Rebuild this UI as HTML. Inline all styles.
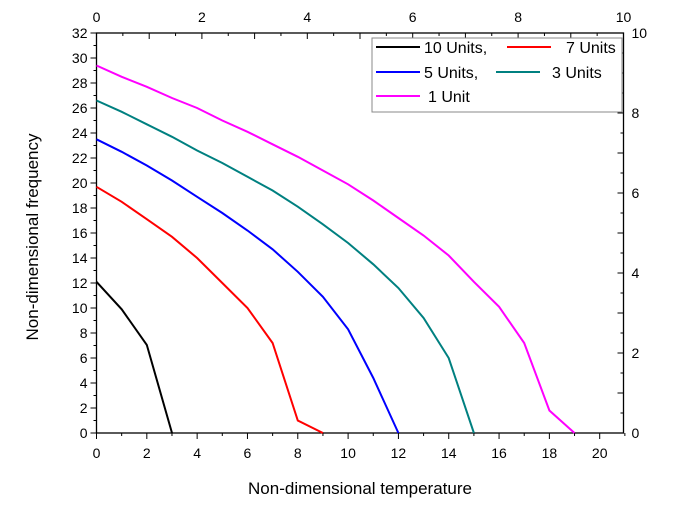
<!DOCTYPE html>
<html><head><meta charset="utf-8"><style>
body{margin:0;background:#fff;}
svg{font-family:"Liberation Sans",Arial,sans-serif;}
</style></head><body>
<svg width="679" height="505">
<g id="axes"></g><g id="series"></g><g id="legend"></g>
</svg>
<script>
const xVals=[0,1,2,3,4,5,6,7,8,9,10,11,12,13,14,15,16,17,18,19];
const s10=[12.1,9.9,7.05,0];
const s7=[19.7,18.5,17.1,15.7,14.0,12.0,10.0,7.2,1.0,0];
const s5=[23.5,22.5,21.4,20.2,18.9,17.6,16.2,14.7,12.9,10.9,8.3,4.4,0];
const s3=[26.6,25.7,24.7,23.7,22.6,21.6,20.5,19.4,18.1,16.7,15.2,13.5,11.6,9.2,6.0,0];
const s1=[29.4,28.5,27.7,26.8,26.0,25.0,24.1,23.1,22.1,21.0,19.9,18.6,17.2,15.8,14.2,12.1,10.1,7.2,1.8,0];
const seriesNames=["10 Units","7 Units","5 Units","3 Units","1 Unit"];
const seriesColors=["#000","#f00","#00f","#008080","#f0f"];
const bottomTicks=[0,2,4,6,8,10,12,14,16,18,20];
const leftTicks=[0,2,4,6,8,10,12,14,16,18,20,22,24,26,28,30,32];
const topTicks=[0,2,4,6,8,10];
const rightTicks=[0,2,4,6,8,10];
const L=96.5,R=623.5,T=33,B=433;
const X=v=>L+v*(599.7-L)/20;
const Y=v=>B-v*(B-T)/32;
const XT=v=>L+v*(R-L)/10;
const YR=v=>B-v*(B-T)/10;
const NS="http://www.w3.org/2000/svg";
function mk(tag,attrs,parent,text){const e=document.createElementNS(NS,tag);for(const k in attrs)e.setAttribute(k,attrs[k]);if(text!==undefined)e.textContent=text;parent.appendChild(e);return e;}
const ax=document.getElementById('axes');
const frame=mk('rect',{x:L,y:T,width:R-L,height:B-T,fill:'none',stroke:'#000','stroke-width':1.3},ax);


for(let v=0;v<=21;v++){const x=X(v);const maj=v%2===0;
 mk('line',{x1:x,y1:B,x2:x,y2:B+(maj?6:3),stroke:'#000'},ax);}
bottomTicks.forEach(v=>{const t=mk('text',{x:X(v),y:B+25,'font-size':14,'text-anchor':'middle'},ax,v);
 
 });
for(let v=0;v<=32;v++){const y=Y(v);const maj=v%2===0;
 mk('line',{x1:L,y1:y,x2:L-(maj?6:3),y2:y,stroke:'#000'},ax);}
leftTicks.forEach(v=>{const t=mk('text',{x:L-9,y:Y(v)+5,'font-size':14,'text-anchor':'end'},ax,v);
 
 });
for(let v=0;v<=20;v++){const x=XT(v/2);mk('line',{x1:x,y1:T,x2:x,y2:T+(v%2===0?6:3),stroke:'#000'},ax);}
topTicks.forEach(v=>{const t=mk('text',{x:XT(v),y:T-11,'font-size':14,'text-anchor':'middle'},ax,v);
 
 });
for(let v=0;v<=20;v++){const y=YR(v/2);mk('line',{x1:R,y1:y,x2:R-(v%2===0?6:3),y2:y,stroke:'#000'},ax);}
rightTicks.forEach(v=>{const t=mk('text',{x:R+8,y:YR(v)+5,'font-size':14},ax,v);
 
 });
const xt=mk('text',{x:360,y:494,'font-size':17,'text-anchor':'middle'},ax,'Non-dimensional temperature');


const yt=mk('text',{x:38,y:237,'font-size':17,'text-anchor':'middle',transform:'rotate(-90 38 237)'},ax,'Non-dimensional frequency');


const sg=document.getElementById('series');
[s10,s7,s5,s3,s1].forEach((s,i)=>{
 const pts=s.map((v,j)=>X(xVals[j]).toFixed(1)+','+Y(v).toFixed(1)).join(' ');
 const p=mk('polyline',{points:pts,fill:'none',stroke:seriesColors[i],'stroke-width':2},sg);
 
 
});
const lg=document.getElementById('legend');
const box=mk('rect',{x:372,y:38,width:250,height:74,fill:'#fff',stroke:'#888'},lg);


const entries=[[376,53,0,"10 Units,",424],[507,53,1,"7 Units",566],[376,78,2,"5 Units,",424],[496,78,3,"3  Units",552],[376,102,4," 1 Unit",428]];
entries.forEach(e=>{
 mk('line',{x1:e[0],y1:e[1]-6,x2:e[0]+44,y2:e[1]-6,stroke:seriesColors[e[2]],'stroke-width':2},lg);
 const t=mk('text',{x:e[4],y:e[1],'font-size':16},lg,e[3]);
 
 
});
</script>
</body></html>
